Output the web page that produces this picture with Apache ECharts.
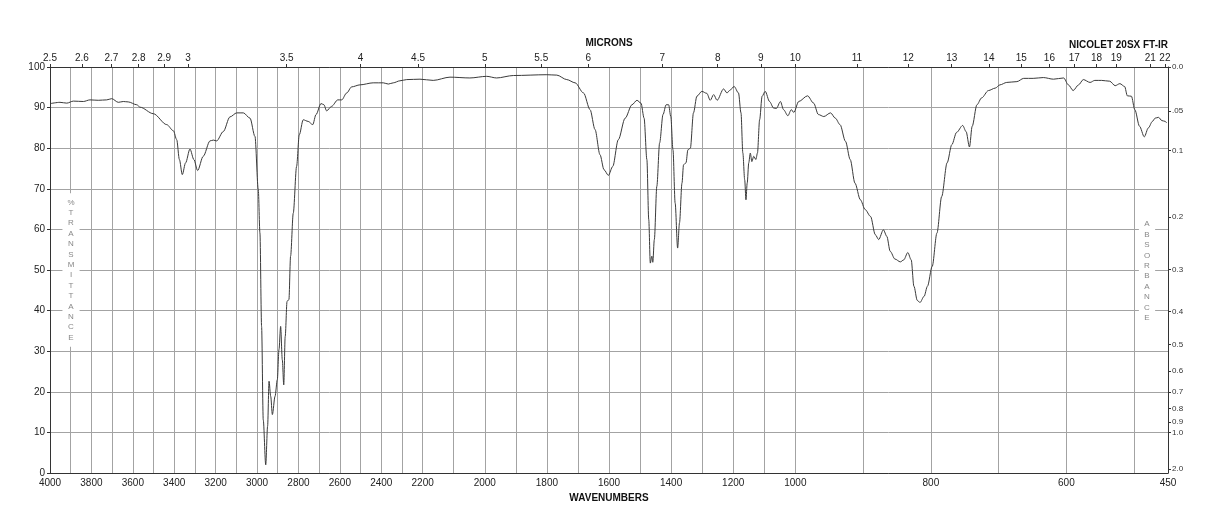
<!DOCTYPE html>
<html>
<head>
<meta charset="utf-8">
<title>IR spectrum</title>
<script src="https://cdn.jsdelivr.net/npm/echarts@6.0.0/dist/echarts.min.js"></script>
<style>
  html, body { margin: 0; padding: 0; background: #fff; }
  #main { width: 1218px; height: 528px; }
</style>
</head>
<body>
<div id="main"></div>
<script>
// spectrum: wavenumber (cm-1) and %T
const wavenumbers = [
  3997, 3952, 3919, 3887, 3839, 3807, 3767, 3726, 3702, 3670, 3646, 3622, 3581, 3565, 3501, 3436,
  3404, 3388, 3375, 3361, 3345, 3324, 3305, 3287, 3260, 3227, 3211, 3195, 3163, 3131, 3098, 3066,
  3034, 3010, 2994, 2986, 2978, 2970, 2958, 2949, 2942, 2934, 2926, 2913, 2902, 2894, 2886, 2878,
  2871, 2864, 2855, 2846, 2838, 2825, 2809, 2796, 2777, 2753, 2731, 2715, 2691, 2677, 2664, 2640,
  2610, 2591, 2567, 2543, 2503, 2439, 2390, 2366, 2342, 2310, 2277, 2213, 2166, 2112, 2048, 1994,
  1962, 1908, 1800, 1768, 1736, 1709, 1682, 1661, 1645, 1629, 1616, 1602, 1588, 1570, 1548, 1526,
  1510, 1497, 1487, 1478, 1472, 1467, 1462, 1459, 1454, 1446, 1437, 1426, 1416, 1408, 1401, 1394,
  1387, 1379, 1373, 1365, 1360, 1352, 1346, 1338, 1328, 1317, 1301, 1285, 1274, 1263, 1252, 1231,
  1220, 1212, 1197, 1183, 1175, 1169, 1163, 1159, 1155, 1150, 1145, 1140, 1134, 1127, 1122, 1115,
  1107, 1097, 1083, 1070, 1061, 1048, 1038, 1024, 1013, 1005, 995, 982, 973, 966, 958, 948,
  941, 934, 926, 919, 912, 904, 897, 889, 882, 877, 870, 865, 860, 853, 845, 840,
  834, 829, 825, 820, 816, 810, 805, 798, 791, 784, 776, 769, 762, 753, 748, 743,
  739, 732, 725, 715, 705, 698, 688, 673, 663, 649, 634, 619, 604, 597, 590, 582,
  575, 565, 558, 548, 536, 528, 521, 514, 510, 504, 499, 492, 485, 479, 473, 469,
  464, 459, 454, 452
];
const transmittance = [
  91.0, 91.3, 91.1, 91.6, 91.5, 91.9, 91.8, 91.9, 92.2, 91.3, 91.5, 91.4, 90.7, 90.1, 88.5, 85.8,
  84.3, 82.1, 77.2, 73.5, 76.4, 79.8, 77.2, 74.5, 78.0, 81.8, 82.0, 81.8, 84.1, 87.7, 88.7, 88.7,
  87.4, 82.9, 69.8, 59.1, 36.1, 13.1, 2.0, 11.5, 22.6, 18.9, 14.4, 18.9, 23.0, 30.4, 36.1, 27.9,
  21.7, 33.6, 42.3, 42.7, 53.4, 64.0, 75.5, 83.3, 87.0, 86.6, 85.8, 88.3, 91.0, 90.7, 89.2, 90.3,
  91.9, 91.9, 93.6, 95.1, 95.6, 96.1, 96.1, 95.8, 96.1, 96.6, 96.9, 97.0, 96.7, 97.5, 97.3, 97.7,
  97.3, 97.9, 98.1, 98.0, 96.9, 96.1, 93.6, 89.5, 84.6, 78.4, 74.7, 73.3, 75.5, 82.1, 87.4, 90.7,
  91.8, 91.1, 87.4, 77.2, 62.4, 51.7, 53.4, 51.9, 57.5, 70.6, 81.3, 88.3, 90.7, 90.7, 87.8, 79.6,
  66.5, 55.4, 61.6, 71.4, 75.9, 76.4, 79.6, 80.0, 88.7, 92.8, 94.0, 93.5, 91.8, 93.2, 91.8, 94.6,
  93.6, 94.2, 95.2, 93.6, 88.7, 78.8, 72.2, 67.3, 71.4, 76.4, 78.8, 76.7, 78.0, 77.2, 78.8, 87.0,
  92.8, 94.0, 91.5, 89.9, 89.8, 91.5, 89.5, 88.0, 89.5, 88.8, 91.5, 92.9, 91.1, 88.3, 87.8, 88.7,
  87.4, 85.8, 81.7, 77.2, 71.4, 67.3, 64.9, 63.2, 58.7, 57.5, 59.9, 58.3, 54.6, 52.7, 52.0, 52.5,
  54.3, 52.5, 46.0, 42.5, 42.0, 43.5, 46.0, 50.9, 59.1, 68.1, 76.4, 80.9, 83.9, 85.6, 84.1, 80.3,
  85.4, 90.7, 92.4, 94.2, 94.8, 95.6, 96.2, 96.4, 97.2, 97.2, 97.4, 97.0, 97.3, 95.6, 94.2, 95.6,
  96.9, 96.2, 96.7, 96.7, 96.5, 95.4, 95.9, 95.2, 92.9, 92.8, 89.5, 85.4, 82.8, 85.0, 86.6, 87.4,
  87.6, 86.8, 86.6, 86.2
];

// axis marks
const wnGridLines = [3900, 3800, 3700, 3600, 3500, 3400, 3300, 3200, 3100, 3000, 2900, 2800, 2700, 2600,
  2500, 2400, 2300, 2200, 2100, 2000, 1900, 1800, 1700, 1600, 1500, 1400, 1300, 1200, 1100, 1000,
  900, 800, 700, 600, 500];
const wnLabels = [4000, 3800, 3600, 3400, 3200, 3000, 2800, 2600, 2400, 2200, 2000, 1800, 1600, 1400,
  1200, 1000, 800, 600, 450];
const micronLabels = [2.5, 2.6, 2.7, 2.8, 2.9, 3, 3.5, 4, 4.5, 5, 5.5, 6, 7, 8, 9, 10, 11, 12, 13, 14,
  15, 16, 17, 18, 19, 21, 22];
const absValues = [0, 0.05, 0.1, 0.2, 0.3, 0.4, 0.5, 0.6, 0.7, 0.8, 0.9, 1.0, 2.0];
const absLabels = ['0.0', '.05', '0.1', '0.2', '0.3', '0.4', '0.5', '0.6', '0.7', '0.8', '0.9', '1.0', '2.0'];

// x axis is three linear pieces of equal width: 4000-2200, 2200-1000, 1000-450
function toU(wn) {
  if (wn >= 2200) return (4000 - wn) / 1800;
  if (wn >= 1000) return 1 + (2200 - wn) / 1200;
  return 2 + (1000 - wn) / 550;
}
function fromU(u) {
  if (u <= 1) return 4000 - 1800 * u;
  if (u <= 2) return 2200 - 1200 * (u - 1);
  return 1000 - 550 * (u - 2);
}
const absT = absValues.map(a => 100 * Math.pow(10, -a));

const font = 'Liberation Sans, Arial, sans-serif';
const gridColor = '#a3a3a3';
const axisColor = '#333';

let myChart = echarts.init(document.getElementById('main'));
let option = {
  backgroundColor: '#fff',
  animation: false,
  textStyle: { fontFamily: font },
  grid: { left: 50, right: 50, top: 67, bottom: 55, containLabel: false },
  xAxis: [
    {
      type: 'value',
      position: 'bottom',
      min: 0,
      max: 3,
      name: 'WAVENUMBERS',
      nameLocation: 'middle',
      nameGap: 18,
      nameTextStyle: { fontWeight: 'bold', fontSize: 10, color: '#111', fontFamily: font },
      axisLine: { onZero: false, lineStyle: { color: axisColor, width: 1 } },
      axisTick: { show: false, customValues: wnGridLines.map(toU) },
      axisLabel: {
        customValues: wnLabels.map(toU),
        formatter: v => String(Math.round(fromU(v))),
        fontSize: 10,
        color: '#222',
        margin: 5,
        fontFamily: font
      },
      splitLine: { show: true, lineStyle: { color: gridColor, width: 1 } }
    },
    {
      type: 'value',
      position: 'top',
      min: 0,
      max: 3,
      name: 'MICRONS',
      nameLocation: 'middle',
      nameGap: 17,
      nameTextStyle: { fontWeight: 'bold', fontSize: 10, color: '#111', fontFamily: font },
      axisLine: { onZero: false, lineStyle: { color: axisColor, width: 1 } },
      axisTick: { show: true, length: 3, customValues: micronLabels.map(m => toU(10000 / m)), lineStyle: { color: axisColor } },
      axisLabel: {
        customValues: micronLabels.map(m => toU(10000 / m)),
        formatter: v => String(Number((10000 / fromU(v)).toFixed(1))),
        fontSize: 10,
        color: '#222',
        margin: 4,
        fontFamily: font
      },
      splitLine: { show: false }
    }
  ],
  yAxis: [
    {
      type: 'value',
      position: 'left',
      min: 0,
      max: 100,
      interval: 10,
      axisLine: { show: true, onZero: false, lineStyle: { color: axisColor, width: 1 } },
      axisTick: { show: true, length: 3, lineStyle: { color: axisColor } },
      axisLabel: { fontSize: 10, color: '#222', margin: 5, fontFamily: font },
      splitLine: { show: true, lineStyle: { color: gridColor, width: 1 } }
    },
    {
      type: 'value',
      position: 'right',
      min: 0,
      max: 100,
      axisLine: { show: true, onZero: false, lineStyle: { color: axisColor, width: 1 } },
      axisTick: { show: true, length: 3, customValues: absT, lineStyle: { color: axisColor } },
      axisLabel: {
        customValues: absT,
        formatter: v => {
          const i = absT.findIndex(t => Math.abs(t - v) < 1e-6);
          return i >= 0 ? absLabels[i] : '';
        },
        fontSize: 8,
        color: '#333',
        margin: 4,
        fontFamily: font
      },
      splitLine: { show: false }
    }
  ],
  graphic: [
    {
      type: 'text',
      x: 1168, y: 45,
      style: { text: 'NICOLET 20SX FT-IR', font: 'bold 10px ' + font, fill: '#111', align: 'right', verticalAlign: 'middle' }
    },
    {
      type: 'text',
      x: 71, y: 270, z: 10,
      style: {
        text: '%\nT\nR\nA\nN\nS\nM\nI\nT\nT\nA\nN\nC\nE',
        font: '8px ' + font, fill: '#888', align: 'center', verticalAlign: 'middle',
        lineHeight: 10.4, backgroundColor: '#fff', padding: [4, 5]
      }
    },
    {
      type: 'text',
      x: 1147, y: 271, z: 10,
      style: {
        text: 'A\nB\nS\nO\nR\nB\nA\nN\nC\nE',
        font: '8px ' + font, fill: '#888', align: 'center', verticalAlign: 'middle',
        lineHeight: 10.4, backgroundColor: '#fff', padding: [4, 5]
      }
    }
  ],
  series: [
    {
      type: 'line',
      xAxisIndex: 0,
      yAxisIndex: 0,
      data: wavenumbers.map((w, i) => [toU(w), transmittance[i]]),
      showSymbol: false,
      smooth: 0.3,
      smoothMonotone: 'x',
      lineStyle: { color: '#3a3a3a', width: 1 },
      z: 5
    }
  ]
};
myChart.setOption(option);
</script>
</body>
</html>
